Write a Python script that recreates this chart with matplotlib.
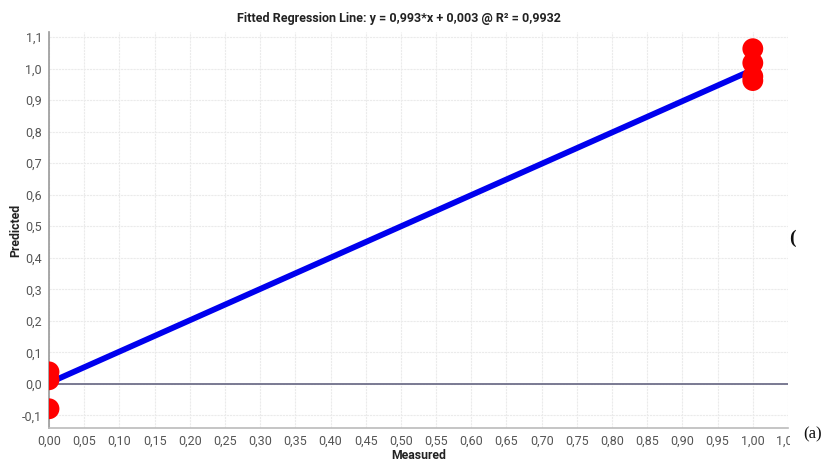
import matplotlib
matplotlib.use("Agg")
import matplotlib.pyplot as plt
from matplotlib.transforms import Bbox
import numpy as np

# Data
measured = [0.0, 0.0, 0.0, 1.0, 1.0, 1.0, 1.0]
predicted = [0.038, 0.013, -0.079, 1.063, 1.018, 0.975, 0.962]
slope = 0.993
intercept = 0.003
line_x = [0.0, 1.0]

xticks = [round(i * 0.05, 2) for i in range(22)]
xtick_labels = [f"{v:.2f}".replace(".", ",") for v in xticks]
yticks = [round(-0.1 + i * 0.1, 1) for i in range(13)]
ytick_labels = [f"{v:.1f}".replace(".", ",") for v in yticks]

title = "Fitted Regression Line: y = 0,993*x + 0,003 @ R² = 0,9932"

plt.rcParams['font.family'] = ['Roboto', 'DejaVu Sans']

fig = plt.figure(figsize=(8.26, 4.61), dpi=100)
ax = fig.add_axes([49/826, 1 - 428/461, (788 - 49)/826, (428 - 32)/461])

ax.set_xlim(0, 1.05)
ax.set_ylim(-0.14, 1.116)

ax.set_xticks(xticks)
ax.set_xticklabels(xtick_labels)
ax.set_yticks(yticks)
ax.set_yticklabels(ytick_labels)
ax.tick_params(axis='both', length=0, labelsize=9, labelcolor='#555555', pad=5)

ax.grid(True, color='#ebebeb', linewidth=0.8, linestyle=(0, (2, 0.8)))
ax.set_axisbelow(True)

for s in ['top', 'right']:
    ax.spines[s].set_visible(False)
ax.spines['left'].set_color('#999999')
ax.spines['bottom'].set_color('#bbbbbb')
ax.spines['left'].set_linewidth(1.2)
ax.spines['bottom'].set_linewidth(1.2)

ax.axhline(0, color='#70708a', linewidth=1.3, zorder=2)

lx = np.array(line_x)
ax.plot(lx, slope * lx + intercept, color='#0000ee', linewidth=4.2,
        solid_capstyle='butt', zorder=3)
ax.scatter(measured, predicted, s=225, color='#ff0000', edgecolors='none',
           zorder=4, clip_on=True)

ax.set_xlabel("Measured", fontsize=8.8, fontweight='bold', color='#222222', labelpad=1)
ax.set_ylabel("Predicted", fontsize=8.8, fontweight='bold', color='#222222')
ax.yaxis.set_label_coords(-0.036, 0.5)

fig.text(399/826, 1 - 18.5/461, title, ha='center', va='center',
         fontsize=9, fontweight='bold', color='#222222')

# clip the last x tick label at the figure's right part
fig.canvas.draw()
labels = ax.get_xticklabels()
clipbox = Bbox.from_extents(0, 0, 790, 461)
labels[-1].set_clip_box(clipbox)
labels[-1].set_clip_on(True)

fig.text(803/826, 1 - 434/461, "(a)", ha='left', va='center',
         fontsize=12, family=['Liberation Serif', 'DejaVu Serif'], color='#111111')
fig.text(789/826, 1 - 238/461, "(", ha='left', va='center',
         fontsize=14, fontweight='bold',
         family=['Liberation Serif', 'DejaVu Serif'], color='#111111')

fig.savefig("out.png", dpi=100)
